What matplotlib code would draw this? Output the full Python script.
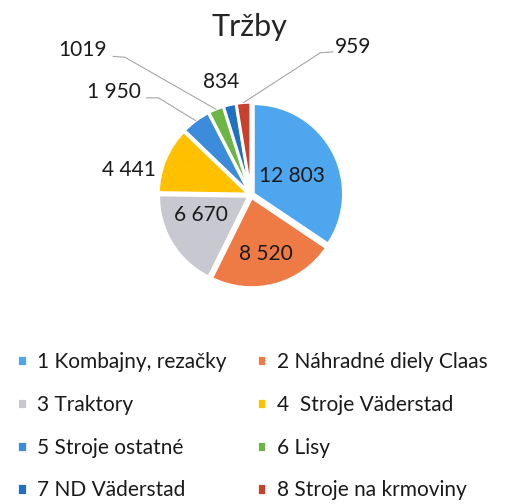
import numpy as np
import matplotlib
matplotlib.use("Agg")
import matplotlib.pyplot as plt

plt.rcParams['font.family'] = ['Lato', 'DejaVu Sans']

# Data
categories = ["1 Kombajny, rezačky", "2 Náhradné diely Claas", "3 Traktory",
              "4  Stroje Väderstad", "5 Stroje ostatné", "6 Lisy",
              "7 ND Väderstad", "8 Stroje na krmoviny"]
values = [12803, 8520, 6670, 4441, 1950, 1019, 834, 959]
value_labels = ["12 803", "8 520", "6 670", "4 441", "1 950", "1019", "834", "959"]
colors = ["#4ea7ee", "#ee7a46", "#c8c8d0", "#ffc000",
          "#3d8bdb", "#6db545", "#1f70c0", "#c8412c"]

# label positions (data units, pie radius = 1)
label_pos = [(0.456, 0.211), (0.167, -0.656), (-0.556, -0.222), (-1.356, 0.278),
             (-1.522, 1.144), (-1.867, 1.611), (-0.333, 1.256), (1.133, 1.644)]
# leader lines: (start of line next to label, elbow) or None
leaders = [None, None, None, None,
           ((-1.16, 1.08), (-1.03, 1.08)),
           ((-1.53, 1.54), (-1.40, 1.53)),
           None,
           ((0.91, 1.59), (0.77, 1.58))]

W, H, dpi = 508, 504, 100
cx, cy, rpx = 251, 195, 90

fig = plt.figure(figsize=(W / dpi, H / dpi), dpi=dpi)
ax = fig.add_axes([0, 0, 1, 1])

explode = [0.03] * len(values)
wedges, _ = ax.pie(values, colors=colors, startangle=90, counterclock=False,
                   explode=explode, radius=1.0, frame=True,
                   wedgeprops=dict(edgecolor='white', linewidth=2))
ax.set_xlim(-cx / rpx, (W - cx) / rpx)
ax.set_ylim(-(H - cy) / rpx, cy / rpx)
ax.set_aspect('equal')
ax.axis('off')

for i, w in enumerate(wedges):
    x, y = label_pos[i]
    ax.text(x, y, value_labels[i], ha='center', va='center', fontsize=15, color='#1a1a1a')
    if leaders[i] is not None:
        mid = np.deg2rad((w.theta1 + w.theta2) / 2)
        ex, ey = w.center
        tx = ex + 1.0 * np.cos(mid)
        ty = ey + 1.0 * np.sin(mid)
        (sx, sy), (bx, by) = leaders[i]
        ax.plot([sx, bx, tx], [sy, by, ty], color='#a6a6a6', lw=0.8)

fig.text(0.492, 1 - 27 / H, "Tržby", ha='center', va='center', fontsize=22, color='#262626')

# legend fills row by row like the original
order = [0, 2, 4, 6, 1, 3, 5, 7]
fig.legend([wedges[i] for i in order], [categories[i] for i in order],
           loc='upper left', bbox_to_anchor=(-0.003, 1 - 333 / H),
           ncol=2, frameon=False, fontsize=15, handlelength=0.45, handleheight=0.45,
           handletextpad=0.5, labelspacing=1.1, columnspacing=1.45,
           labelcolor='#1a1a1a')

fig.savefig("out.png", dpi=dpi)
